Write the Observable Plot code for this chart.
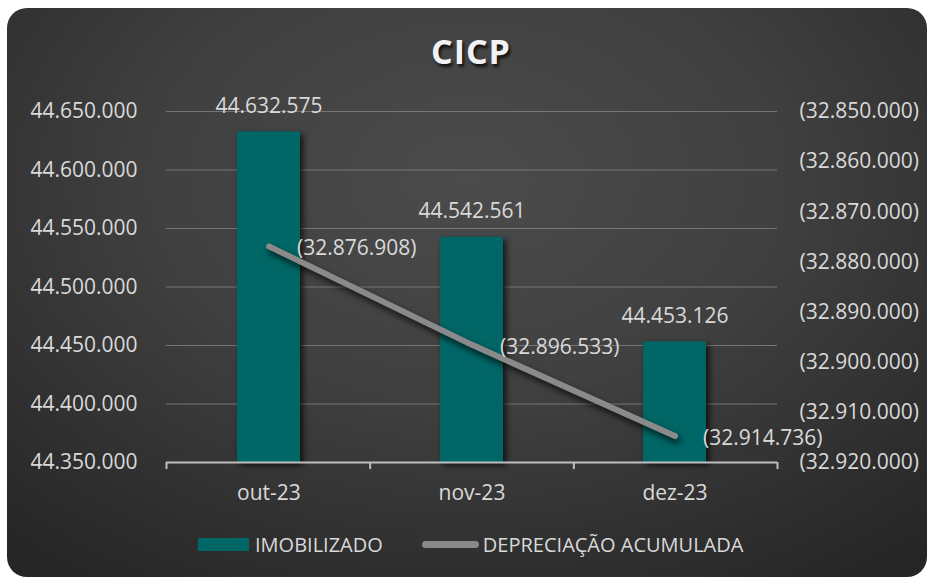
<!DOCTYPE html>
<html>
<head>
<meta charset="utf-8">
<script src="https://cdn.jsdelivr.net/npm/d3@7"></script>
<script src="https://cdn.jsdelivr.net/npm/@observablehq/plot@0.6"></script>
<style>
  html, body { margin: 0; padding: 0; background: #ffffff; overflow: hidden; }
  #wrap { position: relative; width: 933px; height: 579px; font-family: "Open Sans", sans-serif; }
  #card { position: absolute; left: 7px; top: 8px; width: 920px; height: 569px; border-radius: 20px;
    background: radial-gradient(ellipse 75% 85% at 50% 30%, #4b4b4b 0%, #404040 45%, #2f2f2f 80%, #262626 100%); }
  #title { position: absolute; left: 0; width: 942px; top: 28px; text-align: center; color: #f2f2f2;
    font-size: 34px; font-weight: 700; letter-spacing: 1px; text-shadow: 2px 3px 3px rgba(0,0,0,0.75); }
  .layer { position: absolute; left: 0; top: 0; }
  #legend { position: absolute; left: 198px; top: 531px; display: flex; align-items: center; color: #d9d9d9; font-size: 20px; }
  .sw-bar { width: 51px; height: 13px; background: #006666; margin-right: 6px; }
  .sw-line { width: 57px; height: 7px; border-radius: 4px; background: #898989; margin-left: 39px; margin-right: 4px; }
</style>
</head>
<body>
<div id="wrap">
  <div id="card"></div>
  <div id="title">CICP</div>
  <div id="legend"><div class="sw-bar"></div><span>IMOBILIZADO</span><div class="sw-line"></div><span>DEPRECIAÇÃO ACUMULADA</span></div>
</div>
<script>
const months = ["out-23", "nov-23", "dez-23"];
const imobilizado = [44632575, 44542561, 44453126];
const depreciacao = [-32876908, -32896533, -32914736];
const leftTicks = [44350000, 44400000, 44450000, 44500000, 44550000, 44600000, 44650000];
const rightTicks = [-32920000, -32910000, -32900000, -32890000, -32880000, -32870000, -32860000, -32850000];
const boundaryTicks = [0, 1, 2, 3];

const fmtNum = d => d3.format(",")(Math.abs(d)).replace(/,/g, ".");
const fmtSigned = d => d < 0 ? "(" + fmtNum(d) + ")" : fmtNum(d);

const barData = months.map((m, i) => ({month: m, value: imobilizado[i]}));
const lineData = months.map((m, i) => ({month: m, value: depreciacao[i]}));

const W = 933, H = 579;
const M = {marginLeft: 166, marginRight: 156, marginTop: 111, marginBottom: 117};
const TXT = "#d9d9d9";
const FONT = "Open Sans, sans-serif";
const BAND = {type: "band", domain: months, paddingInner: 0.69, paddingOuter: 0.345, align: 0.5};

const wrap = document.getElementById("wrap");

// Bars with left axis
const barsPlot = Plot.plot({
  width: W, height: H, ...M,
  style: {background: "transparent", fontFamily: FONT, fontSize: "21px", color: TXT},
  x: BAND,
  y: {domain: [44350000, 44650000]},
  marks: [
    Plot.gridY(leftTicks, {stroke: "#767676", strokeOpacity: 1, strokeWidth: 1}),
    Plot.axisY(leftTicks, {tickSize: 0, tickPadding: 29, tickFormat: fmtSigned, fill: TXT, fontSize: 21, label: null}),
    Plot.axisX({tickSize: 0, tickPadding: 23, fill: TXT, fontSize: 21, label: null}),
    Plot.barY(barData, {x: "month", y1: 44350000, y2: "value", fill: "#006666"}),
    Plot.text(barData, {x: "month", y: "value", text: d => fmtSigned(d.value), dy: -26, fill: TXT, fontSize: 21})
  ]
});
barsPlot.classList.add("layer");
barsPlot.querySelectorAll('g[aria-label="bar"]').forEach(g => g.style.filter = "drop-shadow(3px 3px 3px rgba(0,0,0,0.75))");
wrap.appendChild(barsPlot);

// Category axis line with boundary ticks
const framePlot = Plot.plot({
  width: W, height: H, ...M,
  style: {background: "transparent", fontFamily: FONT},
  x: {domain: [0, 3]},
  y: {domain: [0, 1]},
  marks: [
    Plot.ruleY([0], {stroke: "#bfbfbf", strokeWidth: 2}),
    Plot.axisX(boundaryTicks, {tickSize: 7, tickFormat: () => "", stroke: "#bfbfbf", strokeWidth: 2, label: null}),
    Plot.axisY([], {label: null})
  ]
});
framePlot.classList.add("layer");
wrap.appendChild(framePlot);

// Line with right axis
const linePlot = Plot.plot({
  width: W, height: H, ...M,
  style: {background: "transparent", fontFamily: FONT, fontSize: "21px", color: TXT},
  x: {...BAND, axis: null},
  y: {domain: [-32920000, -32850000]},
  marks: [
    Plot.axisY(rightTicks, {anchor: "right", tickSize: 0, tickPadding: 22, tickFormat: fmtSigned, fill: TXT, fontSize: 21, label: null}),
    Plot.line(lineData, {x: "month", y: "value", stroke: "#8a8a8a", strokeWidth: 6, strokeLinecap: "round"}),
    Plot.text(lineData, {x: "month", y: "value", text: d => fmtSigned(d.value), textAnchor: "start", dx: 28, dy: 2, fill: TXT, fontSize: 21})
  ]
});
linePlot.classList.add("layer");
linePlot.querySelectorAll('g[aria-label="line"]').forEach(g => g.style.filter = "drop-shadow(2px 4px 3px rgba(0,0,0,0.75))");
wrap.appendChild(linePlot);

// keep legend and title on top
wrap.appendChild(document.getElementById("title"));
wrap.appendChild(document.getElementById("legend"));
</script>
</body>
</html>
